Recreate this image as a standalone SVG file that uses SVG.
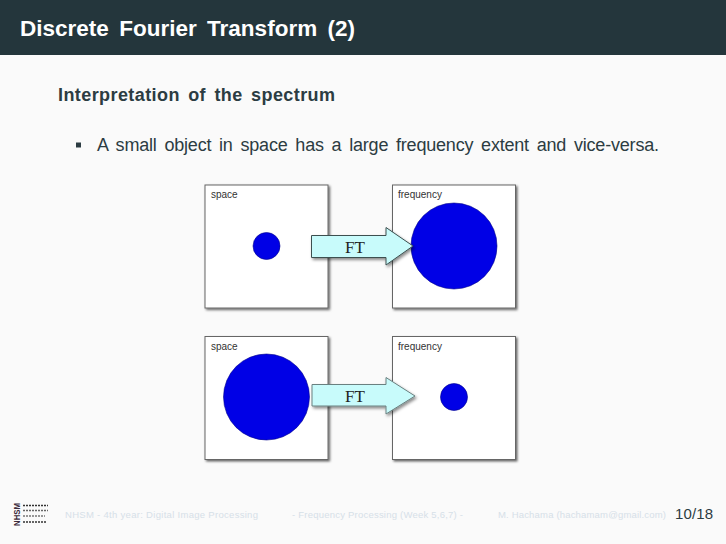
<svg xmlns="http://www.w3.org/2000/svg" width="726" height="544" viewBox="0 0 726 544">
<style>
.s{font-family:"Liberation Sans",Arial,sans-serif}
.panel{fill:#fff;stroke:#666;stroke-width:1;filter:url(#sh)}
.dot{fill:#0000e6;stroke:#00008a;stroke-width:.6}
.arrow{fill:#c8fbfb;stroke:#3c5050;stroke-width:1;filter:url(#sh2)}
.lbl{font-family:"Liberation Sans",sans-serif;font-size:10px;fill:#333}
.ft{font-family:"Liberation Serif",serif;font-size:17px;fill:#222;text-anchor:middle}
.foot{font-size:9.500px;fill:#d6e0e8}
.logo{stroke:#333;stroke-width:1.3;stroke-dasharray:2 1}
</style>
<defs>
<filter id="sh" x="-10%" y="-10%" width="125%" height="125%"><feDropShadow dx="1.500" dy="1.500" stdDeviation="1.200" flood-color="#000" flood-opacity=".6"/></filter>
<filter id="sh2" x="-10%" y="-20%" width="125%" height="150%"><feDropShadow dx="1.500" dy="2" stdDeviation="1.500" flood-color="#000" flood-opacity=".45"/></filter>
</defs>
<rect width="726" height="544" fill="#fafafa"/>
<rect width="726" height="55" fill="#24363c"/>
<text class="s" x="20" y="35.500" font-size="22.500" font-weight="700" fill="#fff" textLength="335" lengthAdjust="spacing" word-spacing="4">Discrete Fourier Transform (2)</text>
<text class="s" x="58" y="101" font-size="18" font-weight="700" fill="#2c3c42" textLength="277" lengthAdjust="spacing" word-spacing="3">Interpretation of the spectrum</text>
<rect x="76" y="142.500" width="5" height="5" fill="#2c3c42"/>
<text class="s" x="97" y="151" font-size="18" fill="#2c3c42" textLength="562" lengthAdjust="spacing" word-spacing="3">A small object in space has a large frequency extent and vice-versa.</text>

<g id="space-top">
<rect class="panel" x="205" y="185" width="123" height="123"/>
<text class="lbl" x="211" y="198">space</text>
<circle class="dot" cx="266.500" cy="246" r="13.500"/>
</g>
<g id="frequency-top">
<rect class="panel" x="392.500" y="185" width="123" height="123"/>
<text class="lbl" x="398" y="198">frequency</text>
<circle class="dot" cx="454" cy="246" r="43"/>
</g>
<g id="space-bottom">
<rect class="panel" x="205" y="336.500" width="123" height="123"/>
<text class="lbl" x="211" y="350">space</text>
<circle class="dot" cx="266.500" cy="397" r="43"/>
</g>
<g id="frequency-bottom">
<rect class="panel" x="392.500" y="336.500" width="123" height="123"/>
<text class="lbl" x="398" y="350">frequency</text>
<circle class="dot" cx="454" cy="397" r="13.500"/>
</g>
<g id="connectors">
<polygon class="arrow" points="311.500,235.500 386,235.500 386,227.500 413,246 386,265 386,257.500 311.500,257.500"/>
<text class="ft" x="355" y="253">FT</text>
<polygon class="arrow" points="312,384.500 386,384.500 386,377.500 415,396 386,414 386,406 312,406" style="stroke:#6a8080"/>
<text class="ft" x="355" y="402">FT</text>
</g>
<g id="footer">
<text class="s foot" x="65" y="518" textLength="193" lengthAdjust="spacing">NHSM - 4th year: Digital Image Processing</text>
<text class="s foot" x="292" y="518" textLength="171" lengthAdjust="spacing">- Frequency Processing (Week 5,6,7) -</text>
<text class="s foot" x="498" y="518" textLength="168" lengthAdjust="spacing">M. Hachama (hachamam@gmail.com)</text>
<text class="s" x="675" y="519" font-size="15" fill="#2c3c42" textLength="38" lengthAdjust="spacing">10/18</text>
</g>
<g id="logo">
<text class="s" transform="translate(20,526) rotate(-90)" font-size="9" font-weight="700" fill="#3a2a3a" textLength="23" lengthAdjust="spacingAndGlyphs">NHSM</text>
<line class="logo" x1="23" y1="505.500" x2="48" y2="505.500"/>
<line class="logo" x1="23" y1="510.500" x2="48" y2="510.500" style="stroke:#666"/>
<line class="logo" x1="23" y1="516" x2="45" y2="516" style="stroke:#777"/>
<line class="logo" x1="23" y1="522" x2="46" y2="522"/>
</g>
</svg>
